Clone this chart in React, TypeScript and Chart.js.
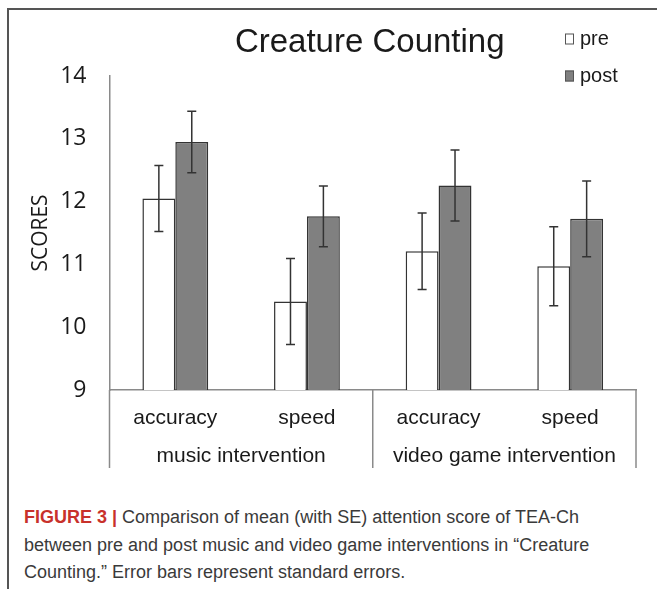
import React, { useEffect, useRef } from "react";
import { Chart, registerables } from "chart.js";

Chart.register(...registerables);

// ---- data ----
const chartTitle = "Creature Counting";
const categories = ["accuracy", "speed", "accuracy", "speed"];
const groups = ["music intervention", "video game intervention"];
const seriesNames = ["pre", "post"];
const preMeans = [12.05, 10.41, 11.21, 10.97];
const preSE = [0.525, 0.685, 0.61, 0.63];
const postMeans = [12.95, 11.765, 12.255, 11.725];
const postSE = [0.49, 0.485, 0.565, 0.605];
const yTicks = [9, 10, 11, 12, 13, 14];
const yAxisTitle = "SCORES";

const SANS = "'Liberation Sans', Arial, sans-serif";
const TICK_FONT = "'Open Sans', sans-serif";
const INK = "#1a1a1a";
const BAR_EDGE = "#333333";
const AXIS_GRAY = "#8a8a8a";

// standard-error whiskers drawn on top of every bar
const errorBars = {
  id: "errorBars",
  afterDatasetsDraw(chart: any) {
    const { ctx } = chart;
    const y = chart.scales.y;
    const errs = [preSE, postSE];
    ctx.save();
    ctx.strokeStyle = "#333333";
    ctx.lineWidth = 1.5;
    chart.data.datasets.forEach((ds: any, di: number) => {
      const meta = chart.getDatasetMeta(di);
      meta.data.forEach((bar: any, i: number) => {
        const v = ds.data[i];
        const e = errs[di][i];
        const yTop = y.getPixelForValue(v + e);
        const yBot = y.getPixelForValue(v - e);
        const x = bar.x;
        ctx.beginPath();
        ctx.moveTo(x, yTop);
        ctx.lineTo(x, yBot);
        ctx.moveTo(x - 4.5, yTop);
        ctx.lineTo(x + 4.5, yTop);
        ctx.moveTo(x - 4.5, yBot);
        ctx.lineTo(x + 4.5, yBot);
        ctx.stroke();
      });
    });
    ctx.restore();
  },
};

// title, legend, group labels and the separators of the category table
const decorations = {
  id: "decorations",
  afterDraw(chart: any) {
    const { ctx, chartArea } = chart;
    const x = chart.scales.x;
    ctx.save();

    // title
    ctx.fillStyle = INK;
    ctx.font = `33px ${SANS}`;
    ctx.textAlign = "center";
    ctx.textBaseline = "middle";
    ctx.fillText(chartTitle, (chartArea.left + chartArea.right) / 2 - 3, 43);

    // legend
    const fills = ["#ffffff", "#808080"];
    const legendY = [39, 76];
    ctx.font = `20px ${SANS}`;
    ctx.textAlign = "left";
    seriesNames.forEach((name, i) => {
      const cy = legendY[i];
      ctx.fillStyle = fills[i];
      ctx.fillRect(565, cy - 5.5, 9, 11);
      ctx.strokeStyle = "#555555";
      ctx.lineWidth = 1;
      ctx.strokeRect(565.5, cy - 5, 8, 10);
      ctx.fillStyle = INK;
      ctx.fillText(name, 580, cy);
    });

    // separators below the baseline
    const bottom = chartArea.bottom;
    const sepEnd = 468;
    const mid = (x.getPixelForValue(1) + x.getPixelForValue(2)) / 2;
    ctx.strokeStyle = AXIS_GRAY;
    ctx.lineWidth = 1.5;
    [chartArea.left, mid, chartArea.right].forEach((sx) => {
      ctx.beginPath();
      ctx.moveTo(sx, bottom);
      ctx.lineTo(sx, sepEnd);
      ctx.stroke();
    });

    // group labels
    ctx.fillStyle = INK;
    ctx.font = `21px ${SANS}`;
    ctx.textAlign = "center";
    ctx.fillText(groups[0], (chartArea.left + mid) / 2, 456);
    ctx.fillText(groups[1], (mid + chartArea.right) / 2, 456);

    ctx.restore();
  },
};

function BarChart() {
  const ref = useRef<HTMLCanvasElement | null>(null);

  useEffect(() => {
    if (!ref.current) return;
    const chart = new Chart(ref.current, {
      type: "bar",
      data: {
        labels: categories,
        datasets: [
          {
            label: seriesNames[0],
            data: preMeans,
            backgroundColor: "#ffffff",
            borderColor: BAR_EDGE,
            borderWidth: 1.5,
            categoryPercentage: 0.5,
            barPercentage: 1,
          },
          {
            label: seriesNames[1],
            data: postMeans,
            backgroundColor: "#808080",
            borderColor: BAR_EDGE,
            borderWidth: 1.5,
            categoryPercentage: 0.5,
            barPercentage: 1,
          },
        ],
      },
      options: {
        responsive: false,
        animation: false,
        devicePixelRatio: 1,
        layout: { padding: { top: 76, right: 21, left: 0, bottom: 0 } },
        plugins: {
          legend: { display: false },
          title: { display: false },
          tooltip: { enabled: false },
        },
        scales: {
          x: {
            grid: { display: false, drawTicks: false },
            border: { display: true, color: AXIS_GRAY, width: 1.5 },
            ticks: {
              color: INK,
              font: { family: SANS, size: 21 },
              padding: 16,
              maxRotation: 0,
              autoSkip: false,
            },
            afterFit(s: any) {
              s.height = 100;
            },
          },
          y: {
            min: yTicks[0],
            max: yTicks[yTicks.length - 1],
            grid: { display: false, drawTicks: false },
            border: { display: true, color: AXIS_GRAY, width: 1.5 },
            afterBuildTicks(s: any) {
              s.ticks = yTicks.map((v) => ({ value: v }));
            },
            ticks: {
              color: INK,
              font: { family: TICK_FONT, size: 23 },
              padding: 23,
            },
            title: {
              display: true,
              text: yAxisTitle,
              color: INK,
              font: { family: TICK_FONT, size: 21 },
              padding: { top: 28, bottom: 0 },
            },
            afterFit(s: any) {
              s.width = 109.5;
            },
          },
        },
      },
      plugins: [errorBars, decorations],
    });
    return () => chart.destroy();
  }, []);

  return (
    <canvas
      ref={ref}
      width={657}
      height={490}
      style={{ position: "absolute", left: 0, top: 0, display: "block" }}
    />
  );
}

export default function App() {
  return (
    <div
      style={{
        position: "absolute",
        left: 0,
        top: 0,
        width: 657,
        height: 589,
        background: "#ffffff",
        overflow: "hidden",
      }}
    >
      <div
        style={{
          position: "absolute",
          left: 6.5,
          top: 8,
          width: 660,
          height: 600,
          borderTop: "2px solid #555",
          borderLeft: "2px solid #555",
        }}
      />
      <BarChart />
      <div
        style={{
          position: "absolute",
          left: 24,
          top: 504,
          fontFamily: SANS,
          fontSize: 18,
          lineHeight: "27.5px",
          color: "#3a3a3a",
          whiteSpace: "nowrap",
        }}
      >
        <span style={{ fontWeight: "bold", color: "#c8312b" }}>FIGURE 3 | </span>
        Comparison of mean (with SE) attention score of TEA-Ch
        <br />
        between pre and post music and video game interventions in “Creature
        <br />
        Counting.” Error bars represent standard errors.
      </div>
    </div>
  );
}
